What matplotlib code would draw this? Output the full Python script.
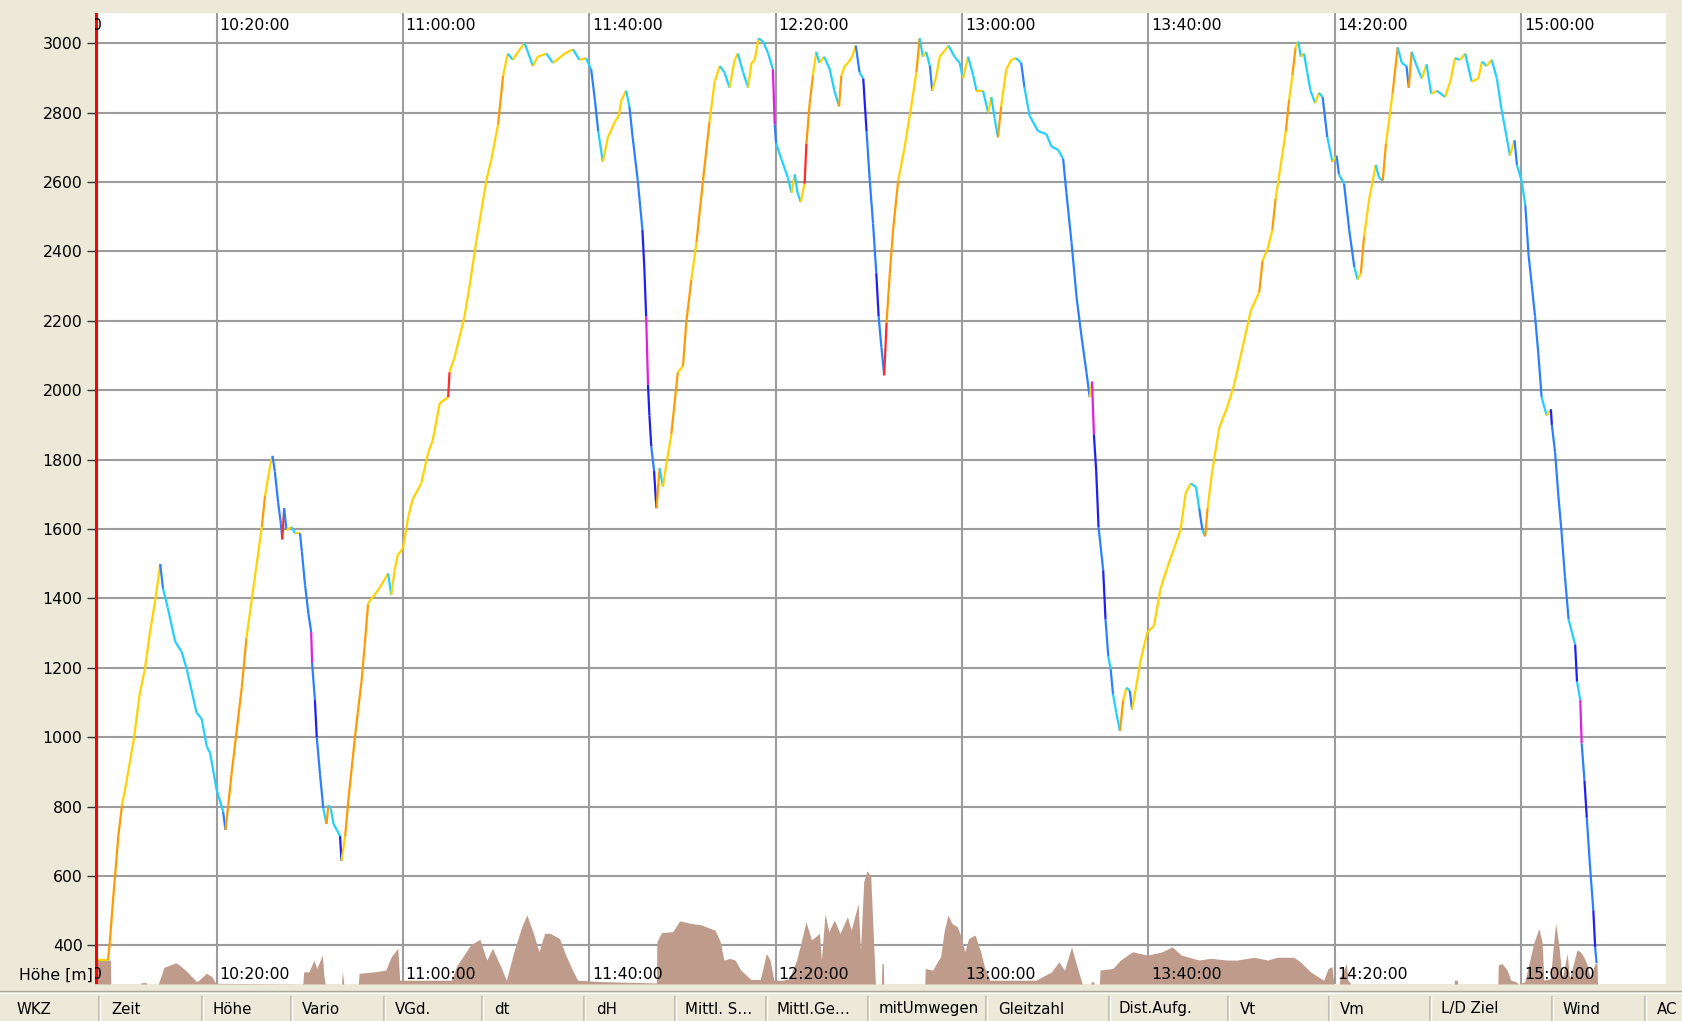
import matplotlib
matplotlib.use('Agg')
import matplotlib.pyplot as plt
import numpy as np
from matplotlib.collections import LineCollection

# Flight altitude trace (minutes after 10:00, metres)
flight_min = [
    -6.0, -3.3, -2.9, -2.2, -1.8, -1.1, -0.3, 0.7, 2.3, 3.5, 4.6, 5.7, 6.8, 7.9, 8.5, 9.5,
    11.1, 12.5, 13.6, 15.7, 16.8, 17.9, 18.6, 20.0, 21.4, 21.9, 22.5, 23.2, 24.3, 25.4, 26.4,
    27.5, 28.6, 29.7, 30.4, 31.5, 32.0, 32.5, 33.2, 33.8, 34.1, 34.5, 35.0, 36.1, 36.8, 37.9,
    38.3, 39.0, 39.7, 40.3, 40.5, 41.1, 41.5, 42.2, 42.9, 43.6, 44.0, 44.5, 45.1, 45.8, 46.5,
    46.8, 47.6, 48.3, 49.0, 49.7, 50.3, 51.1, 51.8, 52.5, 52.8, 53.9, 55.3, 56.8, 57.5, 58.2,
    58.9, 60.0, 61.1, 62.1, 63.9, 65.4, 66.4, 67.9, 69.7, 70.0, 71.1, 73.2, 74.3, 75.7, 76.8,
    77.9, 79.0, 80.4, 81.5, 82.5, 83.6, 84.7, 86.1, 86.8, 87.9, 88.9, 90.8, 92.2, 94.7, 96.5,
    97.9, 99.3, 100.4, 101.2, 101.9, 102.9, 104.0, 105.5, 106.3, 106.9, 107.9, 108.6, 109.3,
    110.4, 111.4, 111.8, 112.2, 112.6, 112.9, 113.3, 113.9, 114.4, 115.1, 115.8, 116.5, 117.6,
    119.0, 120.1, 120.8, 121.9, 123.0, 124.4, 125.8, 126.9, 128.0, 129.0, 130.1, 131.2, 131.9,
    133.0, 134.1, 134.8, 135.5, 136.3, 137.3, 138.4, 139.4, 139.8, 140.1, 141.2, 142.6, 143.4,
    144.1, 144.7, 145.4, 146.2, 146.6, 147.3, 148.0, 148.7, 149.4, 150.4, 151.6, 152.6, 153.6,
    154.1, 154.8, 155.5, 156.4, 157.2, 158.0, 158.8, 159.5, 160.2, 160.9, 161.6, 162.1, 162.7,
    163.3, 163.8, 164.5, 165.2, 166.3, 167.7, 169.1, 170.2, 170.9, 171.6, 172.3, 173.1, 173.6,
    174.5, 175.2, 176.3, 177.1, 178.4, 179.5, 180.2, 181.3, 182.4, 183.1, 184.5, 185.6, 186.3,
    187.0, 187.7, 188.4, 189.5, 190.6, 191.6, 192.7, 193.4, 194.5, 196.3, 198.1, 199.2, 200.6,
    201.7, 202.4, 203.5, 204.6, 205.6, 206.7, 207.4, 207.9, 208.3, 208.8, 209.3, 210.3, 210.8,
    211.4, 211.9, 212.4, 213.1, 213.9, 214.6, 215.3, 216.0, 216.5, 217.1, 218.3, 219.8, 221.2,
    222.6, 224.1, 225.5, 226.9, 228.0, 229.1, 230.2, 230.9, 231.6, 232.2, 232.7, 233.7, 235.2,
    237.0, 238.4, 240.2, 242.0, 243.8, 244.5, 245.6, 246.6, 247.3, 248.4, 249.5, 250.2, 250.9,
    251.6, 252.2, 252.7, 253.4, 254.1, 254.8, 255.8, 256.6, 257.4, 258.4, 259.5, 260.4, 260.9,
    262.0, 263.1, 264.2, 264.9, 265.6, 266.3, 267.4, 268.8, 269.5, 270.3, 271.0, 272.4, 273.5,
    274.4, 275.4, 275.9, 276.5, 277.6, 278.7, 279.7, 280.7, 281.9, 283.7, 284.8, 285.8, 286.9,
    288.0, 289.4, 290.8, 291.6, 292.6, 293.7, 294.8, 295.8, 296.9, 297.6, 298.6, 299.1, 300.1,
    300.9, 301.6, 302.3, 303.0, 303.7, 304.4, 305.5, 306.4, 306.6, 307.3, 308.0, 308.7, 309.4,
    310.2, 310.9, 311.6, 312.0, 312.7, 313.0, 313.6, 314.1, 314.8, 315.5, 315.9, 316.2,
]
flight_alt = [
    358, 358, 412, 537, 599, 715, 804, 875, 1000, 1125, 1196, 1303, 1392, 1499, 1428, 1374,
    1276, 1246, 1196, 1071, 1053, 973, 955, 849, 786, 733, 804, 893, 1018, 1143, 1285,
    1392, 1499, 1606, 1695, 1784, 1811, 1766, 1677, 1615, 1570, 1660, 1597, 1606, 1588, 1588,
    1535, 1437, 1357, 1303, 1214, 1107, 1000, 893, 795, 750, 804, 795, 750, 733, 715,
    644, 715, 822, 911, 1000, 1071, 1160, 1267, 1383, 1392, 1410, 1437, 1472, 1410, 1481,
    1526, 1544, 1633, 1686, 1731, 1820, 1856, 1963, 1980, 2052, 2096, 2212, 2301, 2426, 2515,
    2604, 2667, 2765, 2907, 2970, 2952, 2975, 3000, 2975, 2934, 2961, 2970, 2943, 2970, 2982,
    2952, 2957, 2925, 2836, 2747, 2658, 2729, 2774, 2790, 2836, 2863, 2818, 2729,
    2604, 2462, 2355, 2212, 2016, 1927, 1838, 1767, 1660, 1775, 1722, 1784, 1873,
    2052, 2069, 2194, 2319, 2426, 2604, 2774, 2889, 2934, 2916, 2872, 2952, 2970,
    2916, 2872, 2943, 2952, 3014, 3005, 2970, 2925, 2765, 2711, 2667, 2613, 2569,
    2622, 2569, 2542, 2595, 2711, 2827, 2907, 2975, 2943, 2961, 2925, 2863, 2818,
    2907, 2934, 2943, 2961, 2993, 2916, 2898, 2747, 2604, 2480, 2337, 2212, 2123,
    2043, 2194, 2337, 2462, 2604, 2702, 2818, 2916, 3014, 2961, 2975, 2934, 2863,
    2907, 2961, 2979, 2993, 2961, 2943, 2898, 2961, 2907, 2863, 2863, 2800, 2845,
    2783, 2729, 2818, 2925, 2952, 2957, 2943, 2872, 2791, 2747, 2738, 2702, 2693,
    2667, 2569, 2426, 2266, 2159, 2052, 1980, 2025, 1873, 1767, 1606, 1481, 1339,
    1232, 1196, 1125, 1071, 1018, 1107, 1143, 1134, 1080, 1125, 1220, 1303, 1321,
    1428, 1490, 1544, 1597, 1704, 1731, 1722, 1660, 1597, 1579, 1660, 1766, 1891,
    1954, 2016, 2123, 2230, 2283, 2373, 2408, 2462, 2551, 2649, 2747, 2836, 2907,
    2988, 3005, 2961, 2970, 2916, 2863, 2827, 2857, 2845, 2729, 2658, 2676, 2622,
    2595, 2462, 2355, 2319, 2337, 2444, 2551, 2649, 2613, 2604, 2711, 2854, 2988,
    2943, 2934, 2872, 2975, 2934, 2898, 2939, 2854, 2863, 2845, 2889, 2957, 2952,
    2970, 2889, 2898, 2947, 2934, 2952, 2898, 2809, 2729, 2676, 2720, 2649, 2604,
    2533, 2390, 2301, 2212, 2105, 1980, 1927, 1945, 1900, 1820, 1695, 1588, 1464,
    1339, 1303, 1267, 1160, 1107, 982, 875, 768, 626, 501, 394, 349,
]

# Brown area along the bottom (minutes after 10:00, level on the height axis)
area_min = [
    -6.1, -2.8, -2.7, 3.7, 3.8, 4.9, 5.0, 7.5, 8.7, 11.2, 12.0, 13.7, 15.7, 16.2, 17.8, 19.0,
    19.8, 38.5, 38.7, 39.8, 40.9, 41.5, 42.7, 43.0, 43.3, 46.8, 47.0, 47.3, 50.4, 50.6, 53.9,
    56.3, 57.5, 58.9, 59.3, 60.0, 70.4, 71.5, 74.5, 76.5, 78.0, 79.2, 81.0, 82.2, 83.8, 85.5,
    86.6, 88.0, 89.2, 90.4, 91.6, 93.6, 94.8, 96.4, 97.5, 102.3, 114.4, 114.5, 115.5, 117.9,
    119.4, 121.7, 124.1, 127.0, 128.1, 128.9, 130.1, 131.3, 132.5, 134.7, 136.7, 138.0, 138.8,
    139.6, 141.6, 142.9, 144.5, 145.4, 146.5, 147.7, 149.4, 149.8, 150.6, 151.4, 152.6, 153.8,
    155.4, 156.2, 157.7, 158.2, 158.9, 159.6, 160.4, 161.0, 161.4, 162.7, 162.8, 163.1, 163.2,
    172.0, 172.1, 173.7, 174.5, 175.4, 176.2, 177.0, 177.8, 179.0, 179.8, 180.6, 181.4, 182.8,
    184.0, 184.8, 186.0, 195.9, 199.2, 200.8, 202.0, 203.5, 204.5, 205.8, 207.6, 207.7, 208.3,
    208.4, 209.5, 209.6, 212.4, 214.0, 216.6, 219.8, 223.0, 225.1, 227.1, 230.9, 233.3, 236.9,
    239.1, 242.7, 245.6, 247.6, 251.2, 252.6, 254.8, 257.6, 258.6, 259.4, 259.8, 261.0, 261.1,
    262.5, 262.8, 263.5, 285.6, 285.7, 286.3, 286.4, 295.0, 295.1, 295.9, 297.0, 297.8, 298.8,
    299.5, 300.8, 302.7, 303.8, 304.5, 304.9, 306.3, 307.0, 307.4, 308.1, 308.8, 309.9, 310.4,
    312.0, 312.7, 313.4, 314.1, 314.8, 315.9, 316.3, 316.4,
]
area_val = [
    358, 358, 289, 289, 293, 293, 289, 289, 337, 350, 344, 324, 296, 300, 320, 310,
    291, 289, 324, 324, 358, 334, 372, 315, 289, 289, 327, 289, 289, 320, 324,
    329, 368, 392, 300, 300, 300, 340, 401, 418, 358, 392, 339, 300, 382, 454,
    488, 435, 382, 435, 435, 420, 377, 329, 300, 296, 292, 411, 437, 440,
    471, 464, 459, 444, 411, 358, 363, 358, 329, 302, 302, 377, 358,
    300, 300, 305, 358, 406, 468, 416, 435, 358, 492, 440, 473, 435,
    483, 444, 521, 387, 584, 615, 600, 416, 289, 289, 348, 348, 289,
    289, 334, 329, 348, 368, 444, 488, 464, 454, 425, 382, 420, 430,
    382, 339, 300, 300, 324, 353, 329, 396, 348, 289, 289, 295, 295,
    289, 289, 329, 334, 358, 382, 372, 382, 396, 372, 358, 363, 358,
    358, 366, 358, 366, 366, 353, 324, 300, 334, 339, 289, 289, 305,
    348, 300, 289, 289, 300, 300, 289, 289, 344, 348, 329, 300, 296,
    289, 296, 406, 449, 411, 300, 305, 411, 464, 401, 305, 377, 305,
    387, 382, 368, 348, 310, 348, 348, 289,
]

time_ticks = [20, 60, 100, 140, 180, 220, 260, 300]
time_labels = ['10:20:00', '11:00:00', '11:40:00', '12:20:00',
               '13:00:00', '13:40:00', '14:20:00', '15:00:00']
height_ticks = list(range(400, 3001, 200))

columns = ['WKZ', 'Zeit', 'Höhe', 'Vario', 'VGd.', 'dt', 'dH', 'Mittl. S…',
           'Mittl.Ge…', 'mitUmwegen', 'Gleitzahl', 'Dist.Aufg.', 'Vt', 'Vm',
           'L/D Ziel', 'Wind', 'AC']

# figure geometry in pixels
W_PX, H_PX = 1682, 1021
bg = '#ECE9D8'
fig = plt.figure(figsize=(W_PX / 100, H_PX / 100), dpi=100, facecolor=bg)
left, right, top, bottom = 95, 1666, 13, 984
ax = fig.add_axes([left / W_PX, 1 - bottom / H_PX, (right - left) / W_PX, (bottom - top) / H_PX])
ax.set_facecolor('white')
ax.set_xlim(-6.1, 331.1)
ax.set_ylim(289, 3087)
for s in ax.spines.values():
    s.set_visible(False)

ax.set_xticks(time_ticks)
ax.set_yticks(height_ticks)
ax.grid(True, color='#9C9C9C', linewidth=1.5)
ax.set_axisbelow(True)
ax.tick_params(axis='x', length=0, labelbottom=False)
ax.tick_params(axis='y', length=6, width=1, color='#333333', pad=3, labelsize=11.3)

# brown area
ax.fill_between(area_min, 289, area_val, color='#BF9B8C', linewidth=0, zorder=2)

# altitude trace coloured by climb rate
t = np.array(flight_min)
h = np.array(flight_alt, dtype=float)
vario = np.diff(h) / (np.diff(t) * 60.0)


def vario_color(v):
    if v > 3.5:
        return '#FF2A2A'
    if v > 1.8:
        return '#FF9A00'
    if v >= 0:
        return '#FFD200'
    if v > -1.5:
        return '#22D0FF'
    if v > -3.5:
        return '#2A80FF'
    if v > -6:
        return '#2020F0'
    return '#E020E0'


segs = np.stack([np.column_stack([t[:-1], h[:-1]]), np.column_stack([t[1:], h[1:]])], axis=1)
lc = LineCollection(segs, colors=[vario_color(v) for v in vario], linewidths=1.6, zorder=3)
ax.add_collection(lc)

# red cursor line at the left edge
ax.axvline(ax.get_xlim()[0] + 0.25, color='#FF0000', linewidth=2.2, zorder=4)

# time labels inside the plot, top and bottom
for x, lab in zip(time_ticks, time_labels):
    ax.annotate(lab, xy=(x, 0.9876), xycoords=('data', 'axes fraction'),
                xytext=(2, 0), textcoords='offset points', ha='left', va='center',
                fontsize=11.3, color='black', zorder=5)
    ax.annotate(lab, xy=(x, 0.0093), xycoords=('data', 'axes fraction'),
                xytext=(2, 0), textcoords='offset points', ha='left', va='center',
                fontsize=11.3, color='black', zorder=5)
for yf in (0.9876, 0.0093):
    ax.annotate('0', xy=(0, yf), xycoords='axes fraction', xytext=(-2.5, 0),
                textcoords='offset points', ha='left', va='center', fontsize=11.3,
                annotation_clip=False, clip_on=True, zorder=5)

fig.text(93 / W_PX, 1 - 975 / H_PX, 'Höhe [m]', ha='right', va='center', fontsize=11.3)

# column header strip
hx = fig.add_axes([0, 0, 1, (H_PX - bottom) / H_PX])
hx.set_xlim(0, W_PX)
hx.set_ylim(H_PX, bottom)
hx.axis('off')
hx.plot([0, W_PX], [991, 991], color='#ACA899', linewidth=1)
hx.plot([0, W_PX], [993, 993], color='white', linewidth=1)
seps = [99, 202, 291, 384, 482, 584, 675, 766, 868, 986, 1109, 1228, 1329, 1430, 1552, 1645]
for sx in seps:
    hx.plot([sx, sx], [997, 1021], color='#C5C2B2', linewidth=1.5)
    hx.plot([sx + 1.5, sx + 1.5], [997, 1021], color='white', linewidth=1)
col_x = [17, 111, 213, 302, 395, 494, 596, 685, 777, 879, 998, 1119, 1240, 1340, 1441, 1563, 1657]
for cx, name in zip(col_x, columns):
    hx.text(cx, 1009, name, ha='left', va='center', fontsize=10.8, color='black', clip_on=True)

fig.savefig('out.png', dpi=100, facecolor=bg)
